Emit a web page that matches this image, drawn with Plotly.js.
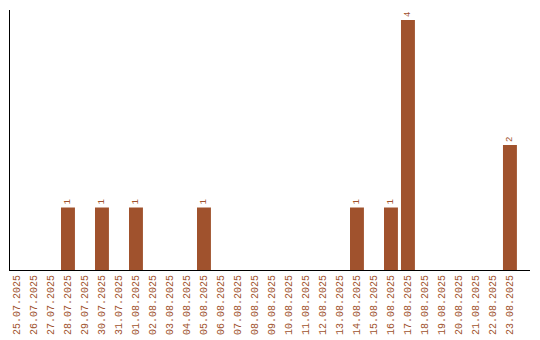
<!DOCTYPE html>
<html><head><meta charset="utf-8">
<script src="https://cdn.plot.ly/plotly-3.0.1.min.js"></script>
<style>html,body{margin:0;padding:0;background:#fff}#c{width:540px;height:340px}</style>
</head><body><div id="c"></div>
<script>
const dates = ["25.07.2025","26.07.2025","27.07.2025","28.07.2025","29.07.2025","30.07.2025","31.07.2025","01.08.2025","02.08.2025","03.08.2025","04.08.2025","05.08.2025","06.08.2025","07.08.2025","08.08.2025","09.08.2025","10.08.2025","11.08.2025","12.08.2025","13.08.2025","14.08.2025","15.08.2025","16.08.2025","17.08.2025","18.08.2025","19.08.2025","20.08.2025","21.08.2025","22.08.2025","23.08.2025"];
const counts = [0,0,0,1,0,1,0,1,0,0,0,1,0,0,0,0,0,0,0,0,1,0,1,4,0,0,0,0,0,2];
const labels = counts.map(v => v > 0 ? String(v) : "");
const color = "#a0522d";
Plotly.newPlot("c", [{
  type: "bar", x: dates, y: counts, text: labels, textposition: "outside",
  textangle: -90, cliponaxis: false, width: 0.82,
  textfont: {family: "Liberation Mono", size: 9, color: color},
  marker: {color: color}, hoverinfo: "none"
}], {
  width: 540, height: 340, margin: {l: 10, r: 10, t: 10, b: 70},
  paper_bgcolor: "#fff", plot_bgcolor: "#fff", showlegend: false,
  xaxis: {type: "category", range: [-0.41, 30.18], showline: true, linecolor: "#000", linewidth: 1,
    ticks: "", tickangle: -90, showgrid: false, zeroline: false,
    tickfont: {family: "Liberation Mono", size: 10, color: color}},
  yaxis: {range: [0, 4.16], showline: true, linecolor: "#000", linewidth: 1,
    showticklabels: false, ticks: "", showgrid: false, zeroline: false}
}, {staticPlot: true});
</script></body></html>
